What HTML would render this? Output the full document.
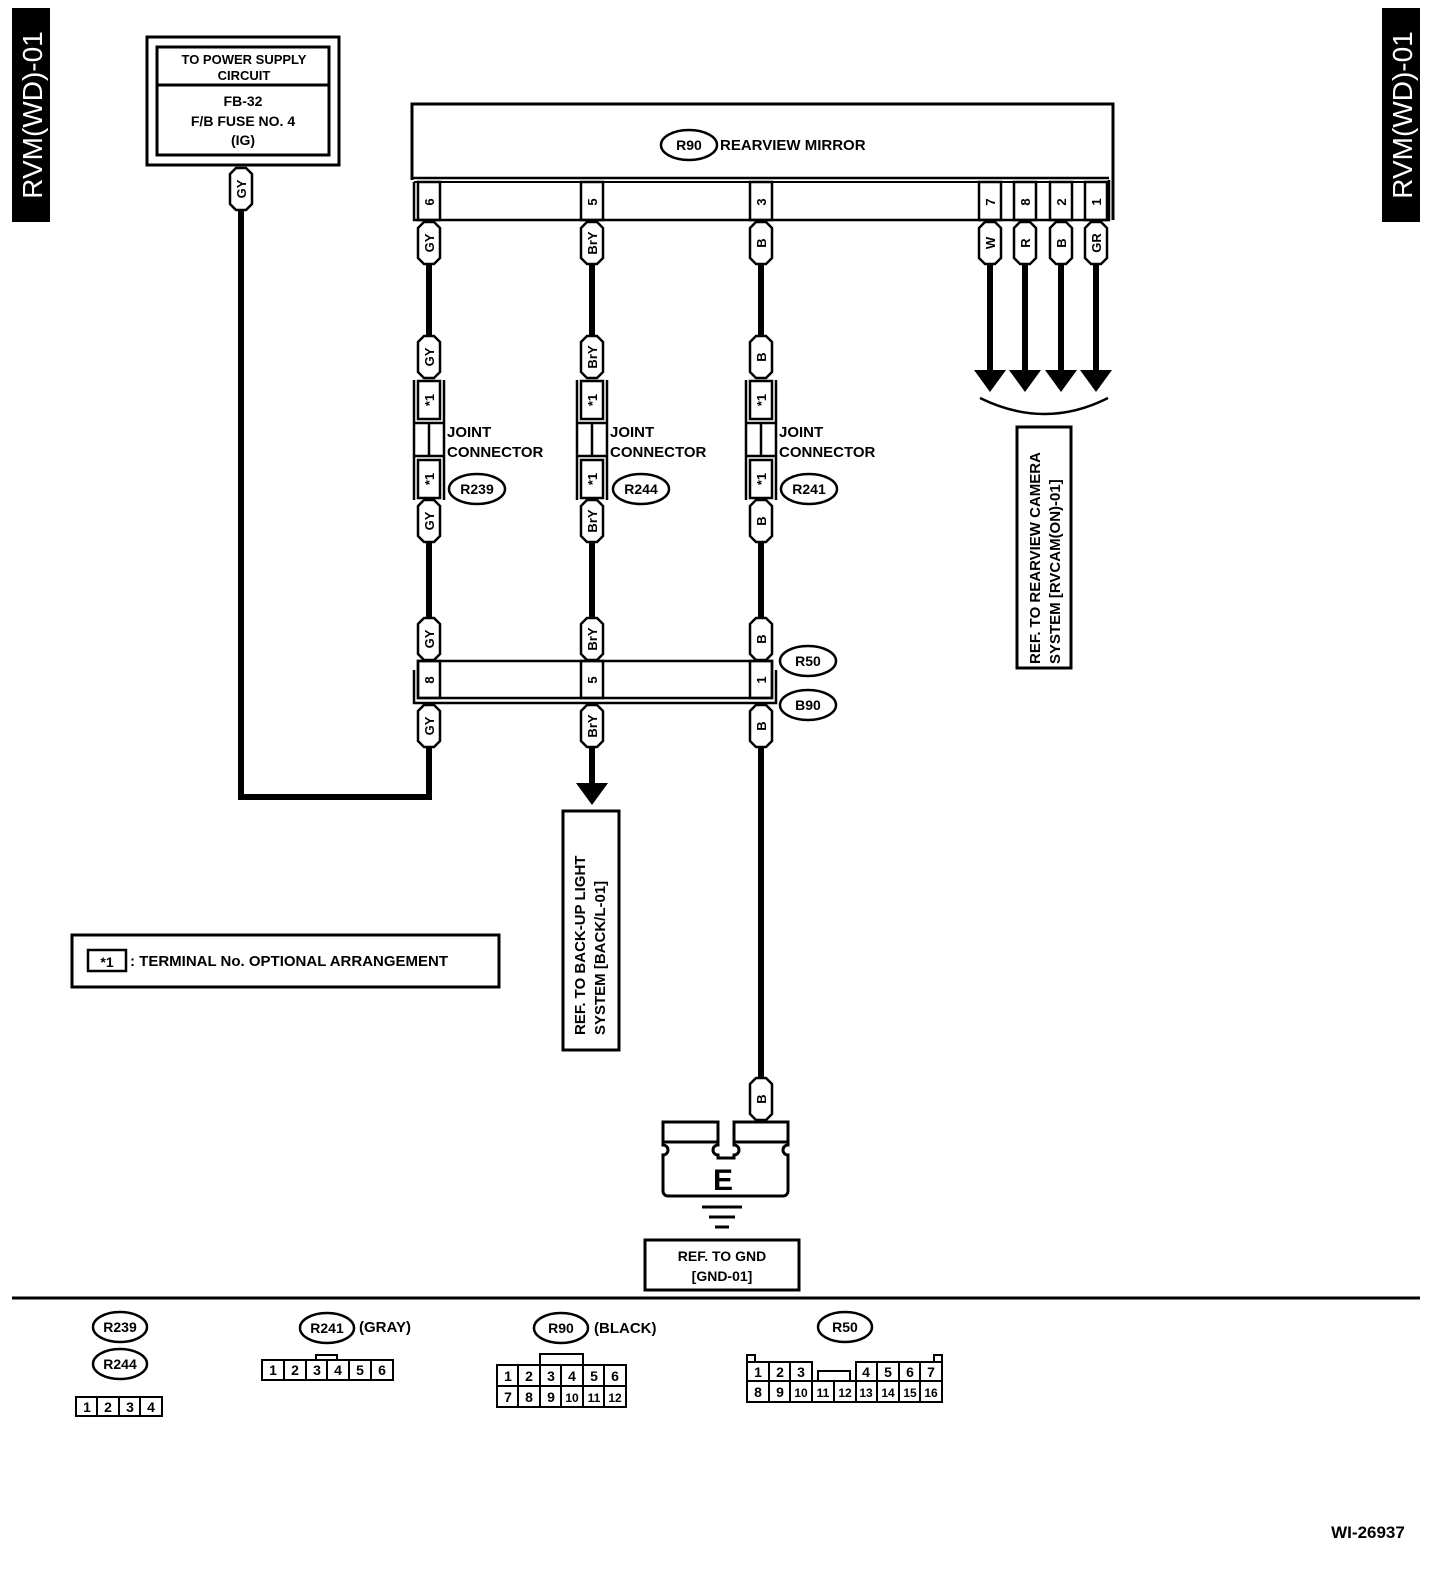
<!DOCTYPE html>
<html><head><meta charset="utf-8"><style>
html,body{margin:0;padding:0;background:#fff}
svg{display:block}
text{font-family:"Liberation Sans",Arial,sans-serif;font-weight:bold;fill:#000}
</style></head><body>
<svg width="1456" height="1588" viewBox="0 0 1456 1588" xmlns="http://www.w3.org/2000/svg">
<defs>
<path id="tg" d="M-11,6 L-5,0 L5,0 L11,6 L11,36 L5,42 L-5,42 L-11,36 Z" fill="#fff" stroke="#000" stroke-width="2.5"/>
<path id="ah" d="M-16,0 L16,0 L0,22 Z" fill="#000"/>
</defs>
<rect x="12" y="8" width="38" height="214" fill="#000"/>
<text transform="translate(42,115) rotate(-90)" text-anchor="middle" font-size="28" style="fill:#fff;font-weight:normal">RVM(WD)-01</text>
<rect x="1382" y="8" width="38" height="214" fill="#000"/>
<text transform="translate(1412,115) rotate(-90)" text-anchor="middle" font-size="28" style="fill:#fff;font-weight:normal">RVM(WD)-01</text>

<g fill="none" stroke="#000">
<rect x="147" y="37" width="192" height="128" stroke-width="3"/>
<rect x="157" y="47" width="172" height="108" stroke-width="3"/>
<line x1="157" y1="85" x2="329" y2="85" stroke-width="3"/>
<polyline points="241,210 241,797 429,797 429,748" stroke-width="6"/>
<line x1="429" y1="264" x2="429" y2="336" stroke-width="6"/>
<line x1="592" y1="264" x2="592" y2="336" stroke-width="6"/>
<line x1="761" y1="264" x2="761" y2="336" stroke-width="6"/>
<line x1="429" y1="542" x2="429" y2="618" stroke-width="6"/>
<line x1="592" y1="542" x2="592" y2="618" stroke-width="6"/>
<line x1="761" y1="542" x2="761" y2="618" stroke-width="6"/>
<line x1="592" y1="748" x2="592" y2="785" stroke-width="6"/>
<line x1="761" y1="748" x2="761" y2="1078" stroke-width="6"/>
<line x1="990" y1="264" x2="990" y2="372" stroke-width="6"/>
<line x1="1025" y1="264" x2="1025" y2="372" stroke-width="6"/>
<line x1="1061" y1="264" x2="1061" y2="372" stroke-width="6"/>
<line x1="1096" y1="264" x2="1096" y2="372" stroke-width="6"/>
<path d="M980,398 Q1045,430 1108,398" stroke-width="2.5"/>
<polyline points="412,180 412,104 1113,104 1113,220" stroke-width="3"/>
<line x1="412" y1="178" x2="1109" y2="178" stroke-width="2.5"/>
<polyline points="414,182 414,220 1109,220 1109,180" stroke-width="2.5"/>
<line x1="414" y1="182" x2="1109" y2="182" stroke-width="2"/>
<g stroke-width="2.5">
<rect x="418" y="182" width="22" height="38"/><rect x="581" y="182" width="22" height="38"/><rect x="750" y="182" width="22" height="38"/>
<rect x="979" y="182" width="22" height="38"/><rect x="1014" y="182" width="22" height="38"/><rect x="1050" y="182" width="22" height="38"/><rect x="1085" y="182" width="22" height="38"/>
</g>
<g stroke-width="2.5">
<g id="jc">
<line x1="414" y1="380" x2="414" y2="500"/><line x1="444" y1="380" x2="444" y2="500"/>
<rect x="418" y="381" width="22" height="38"/><rect x="418" y="460" width="22" height="38"/>
<line x1="414" y1="423" x2="444" y2="423"/><line x1="414" y1="456" x2="444" y2="456"/>
<line x1="429" y1="423" x2="429" y2="456"/>
</g>
<use href="#jc" x="163"/><use href="#jc" x="332"/>
</g>
<rect x="418" y="661" width="354" height="37" stroke-width="2.5"/>
<polyline points="414,670 414,703 776,703 776,670" stroke-width="2.5"/>
<g stroke-width="2.5"><rect x="418" y="661" width="22" height="37"/><rect x="581" y="661" width="22" height="37"/><rect x="750" y="661" width="22" height="37"/></g>
<g stroke-width="2.5">
<ellipse cx="689" cy="145" rx="28" ry="15"/>
<ellipse cx="477" cy="489" rx="28" ry="15"/><ellipse cx="641" cy="489" rx="28" ry="15"/><ellipse cx="809" cy="489" rx="28" ry="15"/>
<ellipse cx="808" cy="661" rx="28" ry="15"/><ellipse cx="808" cy="705" rx="28" ry="15"/>
<ellipse cx="120" cy="1327" rx="27" ry="15"/><ellipse cx="120" cy="1364" rx="27" ry="15"/>
<ellipse cx="327" cy="1328" rx="27" ry="15"/><ellipse cx="561" cy="1328" rx="27" ry="15"/><ellipse cx="845" cy="1327" rx="27" ry="15"/>
</g>
<rect x="563" y="811" width="56" height="239" stroke-width="3"/>
<rect x="1017" y="427" width="54" height="241" stroke-width="3"/>
<rect x="72" y="935" width="427" height="52" stroke-width="3"/>
<rect x="88" y="950" width="38" height="21" stroke-width="2.5"/>
<rect x="645" y="1240" width="154" height="50" stroke-width="3"/>
<!-- ground -->
<rect x="663" y="1122" width="55" height="20" stroke-width="3" fill="#fff"/>
<rect x="734" y="1122" width="54" height="20" stroke-width="3" fill="#fff"/>
<path d="M663,1142 H718 v3 a5,5 0 0 0 0,10 v3 H734 v-3 a5,5 0 0 0 0,-10 v-3 H788 v3 a5,5 0 0 0 0,10 v36 a5,5 0 0 1 -5,5 H668 a5,5 0 0 1 -5,-5 v-36 a5,5 0 0 0 0,-10 Z" stroke-width="3" fill="#fff"/>
<line x1="702" y1="1207" x2="742" y2="1207" stroke-width="3"/>
<line x1="709" y1="1217" x2="735" y2="1217" stroke-width="3"/>
<line x1="715" y1="1227" x2="729" y2="1227" stroke-width="3"/>
<line x1="12" y1="1298" x2="1420" y2="1298" stroke-width="3"/>
<g stroke-width="2">
<rect x="76" y="1397" width="86" height="19"/><line x1="97" y1="1397" x2="97" y2="1416"/><line x1="119" y1="1397" x2="119" y2="1416"/><line x1="140" y1="1397" x2="140" y2="1416"/>
<rect x="262" y="1360" width="131" height="20"/>
<line x1="284" y1="1360" x2="284" y2="1380"/><line x1="306" y1="1360" x2="306" y2="1380"/><line x1="327" y1="1360" x2="327" y2="1380"/><line x1="349" y1="1360" x2="349" y2="1380"/><line x1="371" y1="1360" x2="371" y2="1380"/>
<polyline points="316,1360 316,1355 337,1355 337,1360"/>
<rect x="497" y="1365" width="129" height="42"/><line x1="497" y1="1386" x2="626" y2="1386"/>
<line x1="518" y1="1365" x2="518" y2="1407"/><line x1="540" y1="1365" x2="540" y2="1407"/><line x1="561" y1="1365" x2="561" y2="1407"/><line x1="583" y1="1365" x2="583" y2="1407"/><line x1="604" y1="1365" x2="604" y2="1407"/>
<polyline points="540,1365 540,1354 583,1354 583,1365"/>
<rect x="747" y="1381" width="195" height="21"/>
<polyline points="747,1381 747,1362 812,1362 812,1381"/><polyline points="856,1381 856,1362 942,1362 942,1381"/>
<line x1="769" y1="1362" x2="769" y2="1402"/><line x1="790" y1="1362" x2="790" y2="1402"/>
<line x1="812" y1="1381" x2="812" y2="1402"/><line x1="834" y1="1381" x2="834" y2="1402"/>
<line x1="877" y1="1362" x2="877" y2="1402"/><line x1="899" y1="1362" x2="899" y2="1402"/><line x1="920" y1="1362" x2="920" y2="1402"/><line x1="856" y1="1381" x2="856" y2="1402"/>
<polyline points="818,1381 818,1371 850,1371 850,1381"/>
<polyline points="747,1362 747,1355 755,1355 755,1362"/><polyline points="934,1362 934,1355 942,1355 942,1362"/>
</g>
</g>
<use href="#ah" x="592" y="783"/>
<use href="#ah" x="990" y="370"/><use href="#ah" x="1025" y="370"/><use href="#ah" x="1061" y="370"/><use href="#ah" x="1096" y="370"/>
<use href="#tg" x="241" y="168"/>
<use href="#tg" x="429" y="222"/><use href="#tg" x="592" y="222"/><use href="#tg" x="761" y="222"/>
<use href="#tg" x="429" y="336"/><use href="#tg" x="592" y="336"/><use href="#tg" x="761" y="336"/>
<use href="#tg" x="429" y="500"/><use href="#tg" x="592" y="500"/><use href="#tg" x="761" y="500"/>
<use href="#tg" x="429" y="618"/><use href="#tg" x="592" y="618"/><use href="#tg" x="761" y="618"/>
<use href="#tg" x="429" y="705"/><use href="#tg" x="592" y="705"/><use href="#tg" x="761" y="705"/>
<use href="#tg" x="990" y="222"/><use href="#tg" x="1025" y="222"/><use href="#tg" x="1061" y="222"/><use href="#tg" x="1096" y="222"/>
<use href="#tg" x="761" y="1078"/>
<g font-size="13" text-anchor="middle">
<text transform="translate(246,189) rotate(-90)">GY</text>
<text transform="translate(434,243) rotate(-90)">GY</text><text transform="translate(597,243) rotate(-90)">BrY</text><text transform="translate(766,243) rotate(-90)">B</text>
<text transform="translate(434,357) rotate(-90)">GY</text><text transform="translate(597,357) rotate(-90)">BrY</text><text transform="translate(766,357) rotate(-90)">B</text>
<text transform="translate(434,521) rotate(-90)">GY</text><text transform="translate(597,521) rotate(-90)">BrY</text><text transform="translate(766,521) rotate(-90)">B</text>
<text transform="translate(434,639) rotate(-90)">GY</text><text transform="translate(597,639) rotate(-90)">BrY</text><text transform="translate(766,639) rotate(-90)">B</text>
<text transform="translate(434,726) rotate(-90)">GY</text><text transform="translate(597,726) rotate(-90)">BrY</text><text transform="translate(766,726) rotate(-90)">B</text>
<text transform="translate(995,243) rotate(-90)">W</text><text transform="translate(1030,243) rotate(-90)">R</text><text transform="translate(1066,243) rotate(-90)">B</text><text transform="translate(1101,243) rotate(-90)">GR</text>
<text transform="translate(766,1099) rotate(-90)">B</text>
<text transform="translate(434,202) rotate(-90)">6</text><text transform="translate(597,202) rotate(-90)">5</text><text transform="translate(766,202) rotate(-90)">3</text>
<text transform="translate(995,202) rotate(-90)">7</text><text transform="translate(1030,202) rotate(-90)">8</text><text transform="translate(1066,202) rotate(-90)">2</text><text transform="translate(1101,202) rotate(-90)">1</text>
<text transform="translate(434,680) rotate(-90)">8</text><text transform="translate(597,680) rotate(-90)">5</text><text transform="translate(766,680) rotate(-90)">1</text>
<text transform="translate(434,400) rotate(-90)">*1</text><text transform="translate(597,400) rotate(-90)">*1</text><text transform="translate(766,400) rotate(-90)">*1</text>
<text transform="translate(434,479) rotate(-90)">*1</text><text transform="translate(597,479) rotate(-90)">*1</text><text transform="translate(766,479) rotate(-90)">*1</text>
</g>
<g font-size="13" text-anchor="middle">
<text x="244" y="64">TO POWER SUPPLY</text><text x="244" y="80">CIRCUIT</text>
</g>
<g font-size="14" text-anchor="middle">
<text x="243" y="106">FB-32</text><text x="243" y="126">F/B FUSE NO. 4</text><text x="243" y="145">(IG)</text>
<text x="689" y="150">R90</text>
<text x="477" y="494">R239</text><text x="641" y="494">R244</text><text x="809" y="494">R241</text>
<text x="808" y="666">R50</text><text x="808" y="710">B90</text>
<text x="120" y="1332">R239</text><text x="120" y="1369">R244</text><text x="327" y="1333">R241</text><text x="561" y="1333">R90</text><text x="845" y="1332">R50</text>
<text x="722" y="1261">REF. TO GND</text><text x="722" y="1281">[GND-01]</text>
</g>
<g font-size="15">
<text x="720" y="150">REARVIEW MIRROR</text>
<text x="447" y="437">JOINT</text><text x="447" y="457">CONNECTOR</text>
<text x="610" y="437">JOINT</text><text x="610" y="457">CONNECTOR</text>
<text x="779" y="437">JOINT</text><text x="779" y="457">CONNECTOR</text>
<text x="130" y="966">: TERMINAL No. OPTIONAL ARRANGEMENT</text>
<text x="359" y="1332">(GRAY)</text><text x="594" y="1333">(BLACK)</text>
<text transform="translate(585,1035) rotate(-90)">REF. TO BACK-UP LIGHT</text>
<text transform="translate(605,1035) rotate(-90)">SYSTEM [BACK/L-01]</text>
<text transform="translate(1040,664) rotate(-90)">REF. TO REARVIEW CAMERA</text>
<text transform="translate(1060,664) rotate(-90)">SYSTEM [RVCAM(ON)-01]</text>
</g>
<text x="107" y="967" font-size="14" text-anchor="middle">*1</text>
<text x="723" y="1190" font-size="30" text-anchor="middle">E</text>
<g font-size="14" text-anchor="middle" style="font-weight:normal">
<text x="87" y="1412">1</text><text x="108" y="1412">2</text><text x="130" y="1412">3</text><text x="151" y="1412">4</text>
<text x="273" y="1375">1</text><text x="295" y="1375">2</text><text x="317" y="1375">3</text><text x="338" y="1375">4</text><text x="360" y="1375">5</text><text x="382" y="1375">6</text>
<text x="508" y="1381">1</text><text x="529" y="1381">2</text><text x="551" y="1381">3</text><text x="572" y="1381">4</text><text x="594" y="1381">5</text><text x="615" y="1381">6</text>
<text x="508" y="1402">7</text><text x="529" y="1402">8</text><text x="551" y="1402">9</text><text x="572" y="1402" font-size="12">10</text><text x="594" y="1402" font-size="12">11</text><text x="615" y="1402" font-size="12">12</text>
<text x="758" y="1377">1</text><text x="780" y="1377">2</text><text x="801" y="1377">3</text><text x="866" y="1377">4</text><text x="888" y="1377">5</text><text x="910" y="1377">6</text><text x="931" y="1377">7</text>
<text x="758" y="1397">8</text><text x="780" y="1397">9</text><text x="801" y="1397" font-size="12">10</text><text x="823" y="1397" font-size="12">11</text><text x="845" y="1397" font-size="12">12</text><text x="866" y="1397" font-size="12">13</text><text x="888" y="1397" font-size="12">14</text><text x="910" y="1397" font-size="12">15</text><text x="931" y="1397" font-size="12">16</text>
<text x="1368" y="1538" font-size="17">WI-26937</text>
</g>
</svg>
</body></html>
